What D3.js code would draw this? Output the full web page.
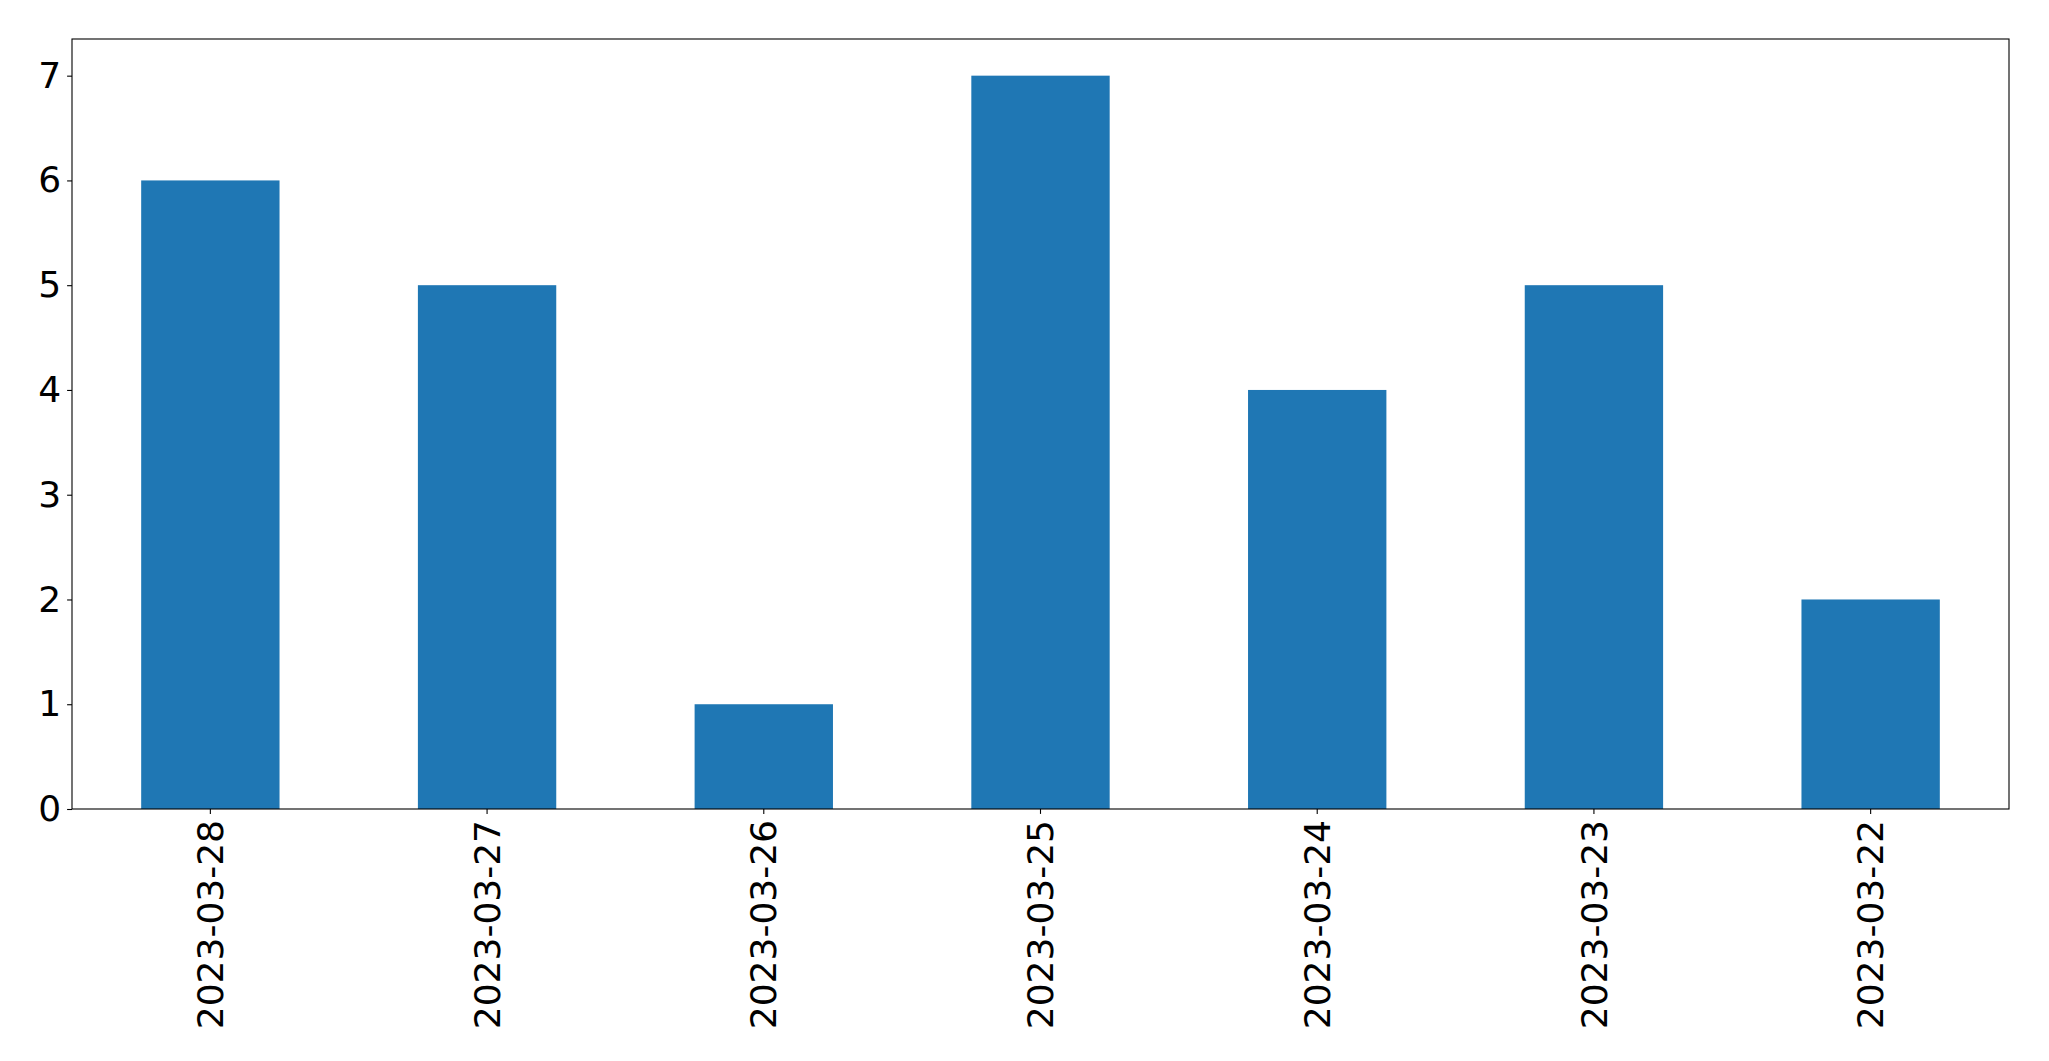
<!DOCTYPE html>
<html><head><meta charset="utf-8">
<script src="https://cdn.jsdelivr.net/npm/d3@7"></script>
<style>body{margin:0;background:#fff;}svg{display:block;}</style>
</head><body>
<svg id="chart" width="2049" height="1061"></svg>
<script>
const categories = ["2023-03-28","2023-03-27","2023-03-26","2023-03-25","2023-03-24","2023-03-23","2023-03-22"];
const values = [6,5,1,7,4,5,2];
const yTicks = [0,1,2,3,4,5,6,7];

const W = 2049, H = 1061;
const m = {left:72, right:2009, top:39, bottom:809};
const svg = d3.select("#chart");
const font = "DejaVu Sans";
const fs = "36px";

const x = d3.scaleBand().domain(categories).range([m.left, m.right]).paddingInner(0.5).paddingOuter(0.25);
const y = d3.scaleLinear().domain([0, 7.35]).range([m.bottom, m.top]);

svg.append("g").selectAll("rect").data(values).join("rect")
  .attr("x", (d,i)=>x(categories[i]))
  .attr("width", x.bandwidth())
  .attr("y", d=>y(d))
  .attr("height", d=>y(0)-y(d))
  .attr("fill", "#1f77b4");

// frame
svg.append("rect").attr("x", m.left).attr("y", m.top)
  .attr("width", m.right-m.left).attr("height", m.bottom-m.top)
  .attr("fill","none").attr("stroke","#000").attr("stroke-width",1.1);

const yAxis = svg.append("g").attr("transform",`translate(${m.left},0)`)
  .call(d3.axisLeft(y).tickValues(yTicks).tickSize(4.9).tickPadding(6).tickFormat(d3.format("d")));
yAxis.select(".domain").remove();
yAxis.selectAll("line").attr("stroke","#000").attr("stroke-width",1.1);
yAxis.selectAll("text").attr("font-family",font).attr("font-size",fs).attr("fill","#000");

const xAxis = svg.append("g").attr("transform",`translate(0,${m.bottom})`)
  .call(d3.axisBottom(x).tickSize(4.9).tickPadding(0));
xAxis.select(".domain").remove();
xAxis.selectAll("line").attr("stroke","#000").attr("stroke-width",1.1);
xAxis.selectAll("text")
  .attr("font-family",font).attr("font-size",fs).attr("fill","#000")
  .attr("transform","translate(0,11) rotate(-90)")
  .attr("text-anchor","end").attr("x",0).attr("y",0).attr("dy","0.35em");
</script>
</body></html>
